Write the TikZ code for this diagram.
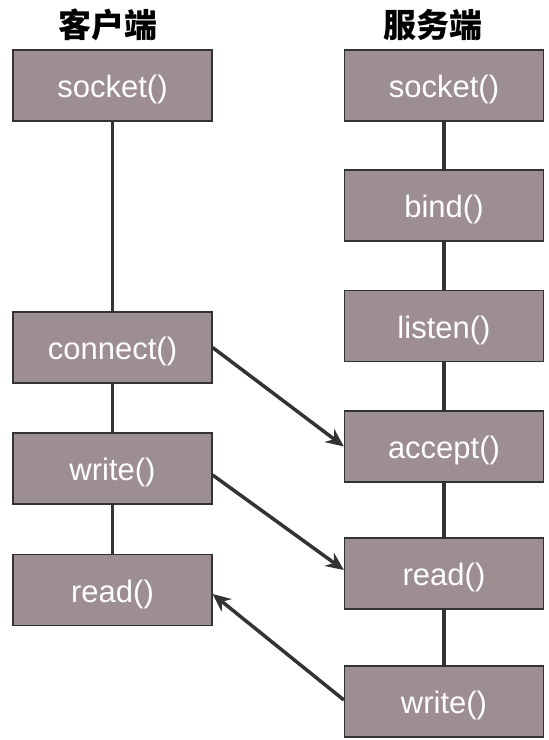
\documentclass[tikz,border=0pt]{standalone}
\usepackage{fontspec}
\setmainfont{Liberation Sans}
\newfontfamily\cjk{Noto Sans CJK SC}
\usetikzlibrary{arrows.meta}
\definecolor{boxfill}{HTML}{9D8E91}
\definecolor{edge}{HTML}{333333}
\begin{document}
\begin{tikzpicture}[x=1pt,y=-1pt,
  fn/.style={draw=edge,line width=1.2pt,fill=boxfill,text=white,minimum width=199pt,minimum height=71pt,inner sep=0pt,text height=30pt,text depth=6pt,font=\fontsize{31}{34}\selectfont},
  title/.style={font=\cjk\bfseries\fontsize{33}{36}\selectfont,text=black},
  link/.style={draw=edge,line width=3.5pt},
  msg/.style={draw=edge,line width=3.5pt,-{Stealth[length=18pt,width=16pt]}}]
\useasboundingbox (0,0) rectangle (549,740);
\node[title] (tc) at (108,25) {客户端};
\node[title] (ts) at (433,25) {服务端};
% client
\node[fn] (cs) at (112.5,85.5) {socket()};
\node[fn] (cc) at (112.5,347.5) {connect()};
\node[fn] (cw) at (112.5,468.5) {write()};
\node[fn] (cr) at (112.5,590) {read()};
% server
\node[fn] (ss) at (444,85.5) {socket()};
\node[fn] (sb) at (444,205.5) {bind()};
\node[fn] (sl) at (444,326) {listen()};
\node[fn] (sa) at (444,446.5) {accept()};
\node[fn] (sr) at (444,573.5) {read()};
\node[fn] (sw) at (444,701.5) {write()};
% vertical links
\draw[link] (cs.south) -- (cc.north);
\draw[link] (cc.south) -- (cw.north);
\draw[link] (cw.south) -- (cr.north);
\draw[link] (ss.south) -- (sb.north);
\draw[link] (sb.south) -- (sl.north);
\draw[link] (sl.south) -- (sa.north);
\draw[link] (sa.south) -- (sr.north);
\draw[link] (sr.south) -- (sw.north);
% messages
\draw[msg] (cc.east) -- (sa.west);
\draw[msg] (cw.east |- 0,475) -- (sr.west |- 0,570);
\draw[msg] (sw.west |- 0,700) -- (cr.east |- 0,594);
\end{tikzpicture}
\end{document}
